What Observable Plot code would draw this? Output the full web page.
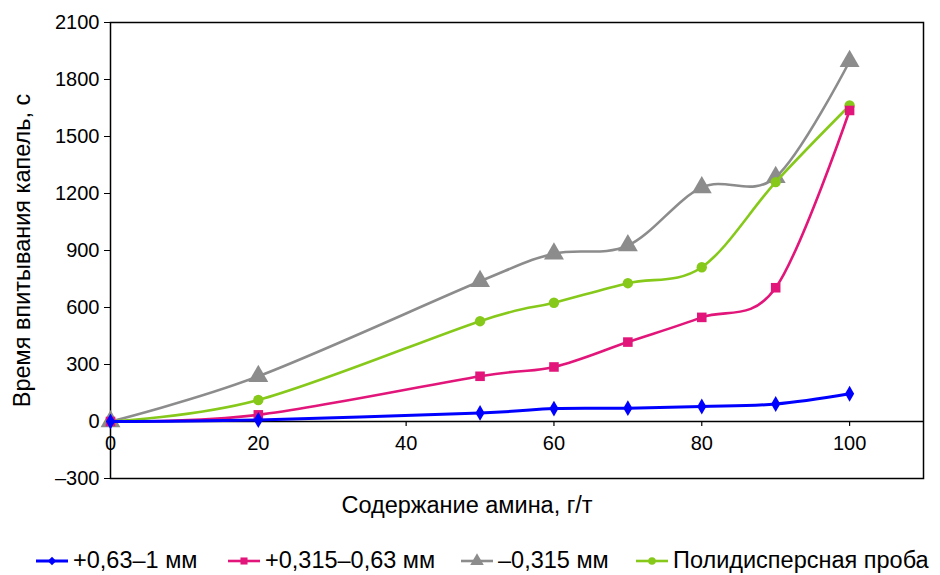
<!DOCTYPE html>
<html>
<head>
<meta charset="utf-8">
<script src="https://cdn.jsdelivr.net/npm/d3@7"></script>
<script src="https://cdn.jsdelivr.net/npm/@observablehq/plot@0.6"></script>
<style>
  body { margin: 0; background: #fff; font-family: "Liberation Sans", Arial, sans-serif; }
  #legend { position: relative; height: 35px; font-size: 23.5px; color: #000; white-space: nowrap; }
  .item { position: absolute; top: 3px; height: 35px; display: flex; align-items: center; }
  .item svg { margin-right: 5px; }
</style>
</head>
<body>
<div id="chart"></div>
<div id="legend"></div>
<script>
const xValues = [0, 20, 50, 60, 70, 80, 90, 100];
const seriesNames = ["+0,63–1 мм", "+0,315–0,63 мм", "–0,315 мм", "Полидисперсная проба"];
const coarse = [0, 8, 45, 68, 70, 79, 92, 146];
const medium = [0, 35, 238, 287, 418, 548, 704, 1637];
const fine = [0, 238, 738, 883, 926, 1232, 1286, 1896];
const poly = [0, 113, 528, 625, 728, 812, 1260, 1663];
const yTicks = [-300, 0, 300, 600, 900, 1200, 1500, 1800, 2100];
const xTicks = [0, 20, 40, 60, 80, 100];
const xTitle = "Содержание амина, г/т";
const yTitle = "Время впитывания капель, с";

const FONT = '"Liberation Sans", Arial, sans-serif';
const colors = ["#0000ff", "#e2167a", "#8c8c8c", "#86c91a"];
const symbols = ["diamond", "square", "triangle", "circle"];
const radii = [4.8, 5.4, 7.4, 5.2];
const widths = [3, 2.6, 2.6, 2.6];
const valuesList = [coarse, medium, fine, poly];
const legendLeft = [36, 228, 461, 636];

const rows = valuesList.map((vals, i) => xValues.map((x, j) => ({x, y: vals[j], s: i})));
const drawOrder = [2, 3, 1, 0];

const marks = [
  Plot.frame({stroke: "#000", strokeWidth: 1.5}),
  Plot.ruleY([0], {stroke: "#000", strokeWidth: 1.5}),
  Plot.ruleX(xTicks, {x: d => d, y1: 0, y2: -26, stroke: "#000", strokeWidth: 1.2}),
  Plot.text(xTicks, {x: d => d, y: 0, dy: 22, text: d => String(d), fontSize: 20}),
  Plot.axisY({ticks: yTicks, tickSize: 6, tickPadding: 5, fontSize: 20, label: null,
    tickFormat: d => d < 0 ? "–" + Math.abs(d) : String(d)}),
  Plot.text([yTitle], {frameAnchor: "left", textAnchor: "middle", dx: -88, rotate: -90, fontSize: 23.5}),
  Plot.text([xTitle], {frameAnchor: "bottom", textAnchor: "middle", dy: 34, dx: -50, fontSize: 23.5})
];
for (const i of drawOrder) {
  marks.push(Plot.line(rows[i], {x: "x", y: "y", stroke: colors[i], strokeWidth: widths[i], curve: "cardinal"}));
  marks.push(Plot.dot(rows[i], {x: "x", y: "y", fill: colors[i], symbol: symbols[i], r: radii[i], stroke: "none"}));
}

const chart = Plot.plot({
  width: 940,
  height: 540,
  marginLeft: 110,
  marginRight: 17,
  marginTop: 22,
  marginBottom: 62,
  x: {domain: [0, 110], axis: null},
  y: {domain: [-300, 2100], axis: null},
  style: {fontFamily: FONT, color: "#000", background: "#fff"},
  marks
});
document.getElementById("chart").appendChild(chart);

const legend = document.getElementById("legend");
seriesNames.forEach((name, i) => {
  const item = document.createElement("div");
  item.className = "item";
  item.style.left = legendLeft[i] + "px";
  const sw = d3.create("svg").attr("width", 32).attr("height", 16);
  sw.append("line").attr("x1", 0).attr("x2", 32).attr("y1", 8).attr("y2", 8).attr("stroke", colors[i]).attr("stroke-width", widths[i]);
  const symMap = {diamond: d3.symbolDiamond2, square: d3.symbolSquare, triangle: d3.symbolTriangle, circle: d3.symbolCircle};
  const size = [45, 50, 80, 45][i];
  sw.append("path").attr("transform", "translate(16,8)").attr("d", d3.symbol(symMap[symbols[i]], size)()).attr("fill", colors[i]);
  item.appendChild(sw.node());
  const t = document.createElement("span");
  t.textContent = name;
  item.appendChild(t);
  legend.appendChild(item);
});
</script>
</body>
</html>
